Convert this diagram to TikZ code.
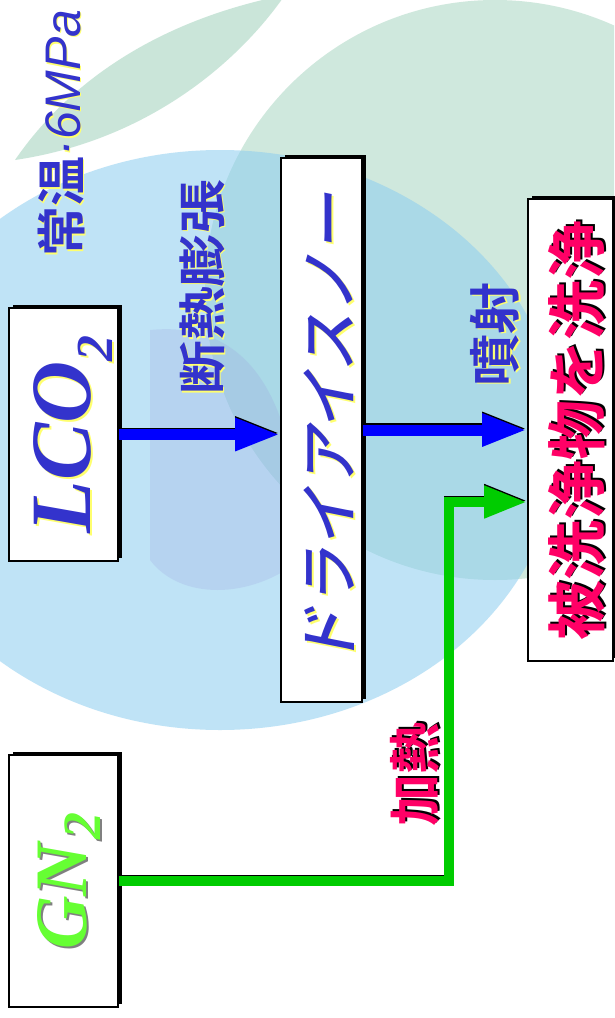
\documentclass[tikz,border=0pt]{standalone}
\usepackage{fontspec}
\usepackage{graphicx}
\usetikzlibrary{arrows.meta,shadows,calc}
\newfontfamily\jpbold{Noto Sans CJK JP Bold}
\newfontfamily\jpsl{Noto Sans CJK JP Medium}[FakeSlant=0.2]
\newfontfamily\arialf{Liberation Sans}
\newfontfamily\tnr{Liberation Serif}
\definecolor{txtblue}{RGB}{51,51,204}
\definecolor{shyellow}{RGB}{255,255,110}
\definecolor{pinkred}{RGB}{255,0,102}
\definecolor{gngreen}{RGB}{102,255,51}
\definecolor{arrowblue}{RGB}{0,0,255}
\definecolor{arrowgreen}{RGB}{0,204,0}
\definecolor{bggreen}{RGB}{150,205,180}
\definecolor{bgblue}{RGB}{140,205,240}
\definecolor{bgpurple}{RGB}{150,150,220}
\newcommand\shd[4]{\leavevmode\rlap{\hspace{#2}\raisebox{#3}{\color{#1}#4}}#4}
\newcommand\mvdown[2]{\raisebox{-#1}[\height][\depth]{#2}}
\begin{document}
\begin{tikzpicture}[x=1pt,y=-1pt,
  box/.style={draw=black, line width=1.6pt, fill=white, inner sep=0pt,
    drop shadow={shadow xshift=3.5pt, shadow yshift=3.5pt, opacity=1, fill=black}},
  lbl/.style={inner sep=0pt, rotate=90},
  flowB/.style={line width=11pt, draw=arrowblue, -{Triangle[length=45pt,width=30pt]}},
  flowG/.style={line width=10pt, draw=arrowgreen, line join=miter, -{Triangle[length=43pt,width=30pt]}},
  flowS/.style={line width=11pt, draw=black, transform canvas={yshift=1.5pt}}]
\fill[white] (0,0) rectangle (614,1018);
\useasboundingbox (0,0) rectangle (614,1018);
\begin{scope}
\clip (0,0) rectangle (614,1018);
\fill[bggreen, opacity=0.45] (495,290) circle[radius=290pt];
\fill[bggreen, opacity=0.5] (15,160) .. controls (70,80) and (160,20) .. (285,-5)
   .. controls (240,60) and (150,140) .. cycle;
\fill[bgblue, opacity=0.55] (220,440) ellipse[x radius=340pt, y radius=290pt];
\fill[bgpurple, opacity=0.2] (150,330) .. controls (250,320) and (300,400) .. (300,560)
   .. controls (250,600) and (180,600) .. (150,560) -- cycle;
\end{scope}

\node[box, minimum width=109pt, minimum height=253pt] (lco) at (63.5,434.5)
  {\rotatebox{90}{\mvdown{11pt}{\tnr\bfseries\itshape\fontsize{86}{86}\selectfont\color{txtblue}\shd{shyellow}{-2pt}{-2pt}{LCO\raisebox{-22pt}{\fontsize{52}{52}\selectfont 2}}}}};
\node[box, minimum width=109pt, minimum height=252pt] (gn) at (63.5,881)
  {\rotatebox{90}{\mvdown{7pt}{\tnr\bfseries\itshape\fontsize{74}{74}\selectfont\color{gngreen}\shd{gray}{-2pt}{-2pt}{GN\hspace{3pt}\raisebox{-14pt}{\fontsize{54}{54}\selectfont 2}}}}};
\node[box, minimum width=81pt, minimum height=544pt] (dry) at (321.5,430)
  {\rotatebox{90}{\mvdown{9pt}{\jpsl\fontsize{60}{60}\selectfont\color{txtblue}\shd{shyellow}{-2pt}{-2pt}{ドライアイスノー}}}};
\node[box, minimum width=85pt, minimum height=462pt] (wash) at (570.5,430)
  {\rotatebox{90}{\mvdown{7pt}{\jpbold\fontsize{60}{60}\selectfont\color{pinkred}\shd{black}{2pt}{-2pt}{被洗浄物を洗浄}}}};

\node[lbl] (jyo) at (62,133) {\fontsize{50}{50}\selectfont\color{txtblue}\shd{shyellow}{-1.5pt}{-1.5pt}{{\jpbold 常温}{\arialf\itshape ·6MPa}}};
\node[lbl] (dan) at (203,287) {\scalebox{1.12}[1]{\jpbold\fontsize{48}{48}\selectfont\color{txtblue}\shd{shyellow}{-1.5pt}{-1.5pt}{断熱膨張}}};
\node[lbl] (fun) at (496,334) {\jpbold\fontsize{52}{52}\selectfont\color{txtblue}\shd{shyellow}{-1.5pt}{-1.5pt}{噴射}};
\node[lbl] (kan) at (416,774) {\jpbold\fontsize{52}{52}\selectfont\color{pinkred}\shd{black}{2pt}{-2pt}{加熱}};

\coordinate (gbend) at (449,502);
\draw[flowS, -{Triangle[length=45pt,width=30pt]}] (lco.east) -- (lco.east -| dry.west);
\draw[flowB] (lco.east) -- (lco.east -| dry.west);
\draw[flowS, -{Triangle[length=45pt,width=30pt]}] (dry.east) -- (dry.east -| wash.west);
\draw[flowB] (dry.east) -- (dry.east -| wash.west);
\draw[flowS, line width=10pt, line join=miter, -{Triangle[length=43pt,width=30pt]}] (gn.east) -| (gbend) -- (gbend -| wash.west);
\draw[flowG] (gn.east) -| (gbend) -- (gbend -| wash.west);
\end{tikzpicture}
\end{document}
